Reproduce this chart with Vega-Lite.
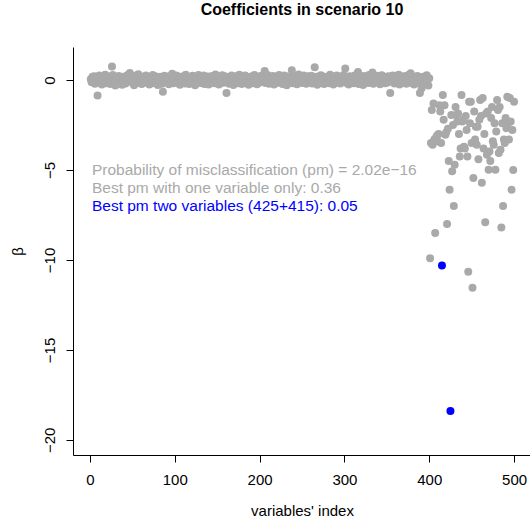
{
"$schema": "https://vega.github.io/schema/vega-lite/v6.json",
"autosize": {"type": "none"},
"width": 458,
"height": 408,
"padding": {"left": 73, "top": 47, "right": 0, "bottom": 64},
"background": "white",
"title": {"text": "Coefficients in scenario 10", "font": "Liberation Sans", "fontSize": 16, "fontWeight": "bold", "color": "black", "anchor": "middle", "baseline": "alphabetic", "offset": 16},
"config": {
  "view": {"stroke": null},
  "axis": {"grid": false, "domainColor": "black", "tickColor": "black", "labelColor": "black", "titleColor": "black", "labelFont": "Liberation Sans", "titleFont": "Liberation Sans", "labelFontSize": 15, "titleFontSize": 15, "titleFontWeight": "normal", "tickSize": 7, "domainWidth": 1, "tickWidth": 1}
},
"datasets": {
  "coef": [
{"i":1,"b":0.05},{"i":2,"b":-0.12},{"i":3,"b":0.18},{"i":4,"b":-0.03},{"i":5,"b":0.22},{"i":6,"b":-0.2},{"i":7,"b":0.08},{"i":8,"b":0.1},{"i":9,"b":-0.85},{"i":10,"b":0.02},
{"i":11,"b":0.25},{"i":12,"b":-0.08},{"i":13,"b":0.12},{"i":14,"b":-0.25},{"i":15,"b":0.0},{"i":16,"b":0.15},{"i":17,"b":-0.05},{"i":18,"b":0.3},{"i":19,"b":-0.18},{"i":20,"b":0.07},
{"i":21,"b":-0.1},{"i":22,"b":0.2},{"i":23,"b":0.03},{"i":24,"b":-0.22},{"i":25,"b":0.14},{"i":26,"b":0.75},{"i":27,"b":0.28},{"i":28,"b":-0.14},{"i":29,"b":0.09},{"i":30,"b":-0.3},
{"i":31,"b":0.17},{"i":32,"b":0.01},{"i":33,"b":-0.07},{"i":34,"b":0.23},{"i":35,"b":-0.17},{"i":36,"b":0.11},{"i":37,"b":0.04},{"i":38,"b":-0.26},{"i":39,"b":0.19},{"i":40,"b":-0.04},
{"i":41,"b":0.13},{"i":42,"b":-0.19},{"i":43,"b":0.06},{"i":44,"b":0.27},{"i":45,"b":-0.09},{"i":46,"b":0.16},{"i":47,"b":0.4},{"i":48,"b":0.02},{"i":49,"b":0.21},{"i":50,"b":-0.11},
{"i":51,"b":0.08},{"i":52,"b":-0.28},{"i":53,"b":0.24},{"i":54,"b":-0.01},{"i":55,"b":0.1},{"i":56,"b":-0.16},{"i":57,"b":0.32},{"i":58,"b":-0.06},{"i":59,"b":0.0},{"i":60,"b":0.18},
{"i":61,"b":-0.21},{"i":62,"b":0.09},{"i":63,"b":-0.02},{"i":64,"b":0.2},{"i":65,"b":-0.13},{"i":66,"b":0.26},{"i":67,"b":0.04},{"i":68,"b":-0.08},{"i":69,"b":0.15},{"i":70,"b":-0.24},
{"i":71,"b":0.12},{"i":72,"b":0.05},{"i":73,"b":-0.18},{"i":74,"b":0.29},{"i":75,"b":-0.1},{"i":76,"b":0.01},{"i":77,"b":0.22},{"i":78,"b":-0.15},{"i":79,"b":0.07},{"i":80,"b":-0.27},
{"i":81,"b":0.11},{"i":82,"b":-0.06},{"i":83,"b":0.19},{"i":84,"b":0.03},{"i":85,"b":-0.2},{"i":86,"b":-0.65},{"i":87,"b":0.16},{"i":88,"b":0.24},{"i":89,"b":-0.12},{"i":90,"b":0.06},
{"i":91,"b":-0.02},{"i":92,"b":0.14},{"i":93,"b":-0.23},{"i":94,"b":0.21},{"i":95,"b":0.08},{"i":96,"b":-0.09},{"i":97,"b":0.35},{"i":98,"b":-0.17},{"i":99,"b":0.0},{"i":100,"b":0.12},
{"i":101,"b":-0.14},{"i":102,"b":0.26},{"i":103,"b":0.05},{"i":104,"b":-0.04},{"i":105,"b":0.18},{"i":106,"b":-0.26},{"i":107,"b":0.1},{"i":108,"b":0.02},{"i":109,"b":-0.11},{"i":110,"b":0.22},
{"i":111,"b":0.07},{"i":112,"b":-0.19},{"i":113,"b":0.3},{"i":114,"b":-0.07},{"i":115,"b":0.13},{"i":116,"b":0.0},{"i":117,"b":-0.22},{"i":118,"b":0.17},{"i":119,"b":0.09},{"i":120,"b":-0.13},
{"i":121,"b":0.24},{"i":122,"b":-0.03},{"i":123,"b":0.11},{"i":124,"b":-0.29},{"i":125,"b":0.06},{"i":126,"b":0.19},{"i":127,"b":-0.1},{"i":128,"b":0.28},{"i":129,"b":0.01},{"i":130,"b":-0.16},
{"i":131,"b":0.15},{"i":132,"b":-0.05},{"i":133,"b":0.08},{"i":134,"b":0.25},{"i":135,"b":-0.21},{"i":136,"b":0.04},{"i":137,"b":0.12},{"i":138,"b":-0.08},{"i":139,"b":0.2},{"i":140,"b":-0.25},
{"i":141,"b":0.03},{"i":142,"b":0.16},{"i":143,"b":-0.14},{"i":144,"b":0.23},{"i":145,"b":-0.02},{"i":146,"b":0.09},{"i":147,"b":-0.18},{"i":148,"b":0.31},{"i":149,"b":0.05},{"i":150,"b":-0.1},
{"i":151,"b":0.18},{"i":152,"b":-0.24},{"i":153,"b":0.07},{"i":154,"b":0.13},{"i":155,"b":-0.06},{"i":156,"b":0.27},{"i":157,"b":-0.15},{"i":158,"b":0.02},{"i":159,"b":0.21},{"i":160,"b":-0.12},
{"i":161,"b":-0.72},{"i":162,"b":0.1},{"i":163,"b":0.04},{"i":164,"b":-0.2},{"i":165,"b":0.17},{"i":166,"b":-0.04},{"i":167,"b":0.26},{"i":168,"b":0.08},{"i":169,"b":-0.27},{"i":170,"b":0.14},
{"i":171,"b":-0.09},{"i":172,"b":0.22},{"i":173,"b":0.0},{"i":174,"b":-0.17},{"i":175,"b":0.12},{"i":176,"b":0.3},{"i":177,"b":-0.07},{"i":178,"b":0.06},{"i":179,"b":-0.22},{"i":180,"b":0.19},
{"i":181,"b":0.03},{"i":182,"b":-0.13},{"i":183,"b":0.25},{"i":184,"b":0.09},{"i":185,"b":-0.01},{"i":186,"b":0.16},{"i":187,"b":-0.26},{"i":188,"b":0.11},{"i":189,"b":0.05},{"i":190,"b":-0.1},
{"i":191,"b":0.21},{"i":192,"b":-0.18},{"i":193,"b":0.07},{"i":194,"b":0.28},{"i":195,"b":-0.05},{"i":196,"b":0.13},{"i":197,"b":-0.23},{"i":198,"b":0.02},{"i":199,"b":0.18},{"i":200,"b":-0.14},
{"i":201,"b":0.1},{"i":202,"b":0.24},{"i":203,"b":-0.08},{"i":204,"b":0.04},{"i":205,"b":0.2},{"i":206,"b":0.5},{"i":207,"b":-0.16},{"i":208,"b":0.14},{"i":209,"b":-0.03},{"i":210,"b":0.27},
{"i":211,"b":-0.2},{"i":212,"b":0.08},{"i":213,"b":0.17},{"i":214,"b":-0.11},{"i":215,"b":0.01},{"i":216,"b":0.23},{"i":217,"b":-0.25},{"i":218,"b":0.12},{"i":219,"b":0.06},{"i":220,"b":-0.07},
{"i":221,"b":0.19},{"i":222,"b":-0.15},{"i":223,"b":0.29},{"i":224,"b":0.03},{"i":225,"b":-0.09},{"i":226,"b":0.15},{"i":227,"b":-0.21},{"i":228,"b":0.09},{"i":229,"b":0.25},{"i":230,"b":-0.02},
{"i":231,"b":0.11},{"i":232,"b":-0.28},{"i":233,"b":0.2},{"i":234,"b":0.05},{"i":235,"b":-0.12},{"i":236,"b":0.16},{"i":237,"b":0.0},{"i":238,"b":0.55},{"i":239,"b":-0.18},{"i":240,"b":0.13},
{"i":241,"b":0.07},{"i":242,"b":-0.06},{"i":243,"b":0.22},{"i":244,"b":-0.23},{"i":245,"b":0.1},{"i":246,"b":0.31},{"i":247,"b":-0.1},{"i":248,"b":0.04},{"i":249,"b":0.18},{"i":250,"b":-0.16},
{"i":251,"b":0.02},{"i":252,"b":0.26},{"i":253,"b":-0.05},{"i":254,"b":0.12},{"i":255,"b":-0.2},{"i":256,"b":0.08},{"i":257,"b":0.21},{"i":258,"b":-0.13},{"i":259,"b":0.15},{"i":260,"b":-0.01},
{"i":261,"b":0.24},{"i":262,"b":-0.19},{"i":263,"b":0.06},{"i":264,"b":0.14},{"i":265,"b":0.72},{"i":266,"b":-0.08},{"i":267,"b":0.19},{"i":268,"b":-0.26},{"i":269,"b":0.1},{"i":270,"b":0.03},
{"i":271,"b":-0.14},{"i":272,"b":0.27},{"i":273,"b":0.08},{"i":274,"b":-0.04},{"i":275,"b":0.2},{"i":276,"b":-0.22},{"i":277,"b":0.13},{"i":278,"b":0.01},{"i":279,"b":0.17},{"i":280,"b":-0.11},
{"i":281,"b":0.09},{"i":282,"b":-0.17},{"i":283,"b":0.3},{"i":284,"b":0.05},{"i":285,"b":-0.07},{"i":286,"b":0.22},{"i":287,"b":-0.24},{"i":288,"b":0.11},{"i":289,"b":0.16},{"i":290,"b":-0.02},
{"i":291,"b":0.25},{"i":292,"b":-0.12},{"i":293,"b":0.04},{"i":294,"b":0.19},{"i":295,"b":-0.19},{"i":296,"b":0.08},{"i":297,"b":0.14},{"i":298,"b":-0.09},{"i":299,"b":0.28},{"i":300,"b":0.0},
{"i":301,"b":0.65},{"i":302,"b":-0.15},{"i":303,"b":0.12},{"i":304,"b":0.06},{"i":305,"b":-0.25},{"i":306,"b":0.21},{"i":307,"b":0.03},{"i":308,"b":-0.06},{"i":309,"b":0.17},{"i":310,"b":0.1},
{"i":311,"b":-0.18},{"i":312,"b":0.26},{"i":313,"b":0.07},{"i":314,"b":-0.11},{"i":315,"b":0.15},{"i":316,"b":0.45},{"i":317,"b":-0.21},{"i":318,"b":0.09},{"i":319,"b":0.2},{"i":320,"b":-0.03},
{"i":321,"b":0.13},{"i":322,"b":-0.27},{"i":323,"b":0.23},{"i":324,"b":0.02},{"i":325,"b":-0.1},{"i":326,"b":0.18},{"i":327,"b":0.05},{"i":328,"b":-0.16},{"i":329,"b":0.29},{"i":330,"b":0.11},
{"i":331,"b":-0.05},{"i":332,"b":0.2},{"i":333,"b":0.42},{"i":334,"b":-0.2},{"i":335,"b":0.07},{"i":336,"b":0.14},{"i":337,"b":-0.12},{"i":338,"b":0.24},{"i":339,"b":0.01},{"i":340,"b":-0.08},
{"i":341,"b":0.16},{"i":342,"b":-0.23},{"i":343,"b":0.1},{"i":344,"b":0.27},{"i":345,"b":-0.04},{"i":346,"b":0.06},{"i":347,"b":0.19},{"i":348,"b":-0.17},{"i":349,"b":0.12},{"i":350,"b":0.03},
{"i":351,"b":-0.13},{"i":352,"b":0.22},{"i":353,"b":0.08},{"i":354,"b":-0.72},{"i":355,"b":0.15},{"i":356,"b":-0.07},{"i":357,"b":0.25},{"i":358,"b":0.0},{"i":359,"b":-0.19},{"i":360,"b":0.11},
{"i":361,"b":0.18},{"i":362,"b":-0.1},{"i":363,"b":0.05},{"i":364,"b":0.3},{"i":365,"b":-0.24},{"i":366,"b":0.13},{"i":367,"b":0.02},{"i":368,"b":-0.14},{"i":369,"b":0.21},{"i":370,"b":0.09},
{"i":371,"b":-0.06},{"i":372,"b":0.17},{"i":373,"b":-0.2},{"i":374,"b":0.26},{"i":375,"b":0.04},{"i":376,"b":-0.11},{"i":377,"b":0.14},{"i":378,"b":0.38},{"i":379,"b":-0.16},{"i":380,"b":0.07},
{"i":381,"b":0.2},{"i":382,"b":-0.25},{"i":383,"b":0.1},{"i":384,"b":0.03},{"i":385,"b":-0.08},{"i":386,"b":0.23},{"i":387,"b":0.12},{"i":388,"b":-0.18},{"i":389,"b":-0.72},{"i":390,"b":0.16},
{"i":391,"b":-0.45},{"i":392,"b":0.05},{"i":393,"b":0.19},{"i":394,"b":-0.12},{"i":395,"b":0.08},{"i":396,"b":-0.2},{"i":397,"b":0.27},{"i":398,"b":0.02},{"i":399,"b":-0.3},{"i":400,"b":0.1},
{"i":401,"b":-9.9},{"i":402,"b":-3.5},{"i":403,"b":-1.66},{"i":404,"b":-3.6},{"i":405,"b":-1.3},{"i":406,"b":-3.3},{"i":407,"b":-8.5},{"i":408,"b":-3.2},{"i":409,"b":-3.1},{"i":410,"b":-3.4},
{"i":411,"b":-3.0},{"i":412,"b":-1.4},{"i":413,"b":-1.75},{"i":414,"b":-3.5},{"i":416,"b":-0.83},{"i":417,"b":-2.2},{"i":418,"b":-1.4},{"i":419,"b":-3.04},{"i":420,"b":-2.9},
{"i":421,"b":-8.0},{"i":422,"b":-2.7},{"i":423,"b":-4.5},{"i":424,"b":-6.1},{"i":426,"b":-1.94},{"i":427,"b":-5.07},{"i":428,"b":-2.5},{"i":429,"b":-7.0},{"i":430,"b":-4.7},
{"i":431,"b":-1.5},{"i":432,"b":-1.94},{"i":433,"b":-2.3},{"i":434,"b":-1.85},{"i":435,"b":-3.0},{"i":436,"b":-4.24},{"i":437,"b":-3.8},{"i":438,"b":-0.83},{"i":439,"b":-2.3},{"i":440,"b":-2.2},
{"i":441,"b":-3.7},{"i":442,"b":-3.8},{"i":443,"b":-2.0},{"i":444,"b":-2.77},{"i":445,"b":-4.24},{"i":446,"b":-10.66},{"i":447,"b":-1.2},{"i":448,"b":-2.4},{"i":449,"b":-1.2},{"i":450,"b":-3.5},
{"i":451,"b":-11.54},{"i":452,"b":-5.44},{"i":453,"b":-1.75},{"i":454,"b":-3.3},{"i":455,"b":-2.6},{"i":456,"b":-3.6},{"i":457,"b":-2.6},{"i":458,"b":-4.4},{"i":459,"b":-2.2},{"i":460,"b":-1.1},
{"i":461,"b":-2.0},{"i":462,"b":-5.7},{"i":463,"b":-1.0},{"i":464,"b":-3.8},{"i":465,"b":-3.0},{"i":466,"b":-7.9},{"i":467,"b":-1.85},{"i":468,"b":-4.15},{"i":469,"b":-1.75},{"i":470,"b":-4.98},
{"i":471,"b":-3.97},{"i":472,"b":-4.5},{"i":473,"b":-2.1},{"i":474,"b":-1.5},{"i":475,"b":-3.4},{"i":476,"b":-3.6},{"i":477,"b":-2.4},{"i":478,"b":-4.98},{"i":479,"b":-2.86},{"i":480,"b":-1.1},
{"i":481,"b":-1.66},{"i":482,"b":-4.05},{"i":483,"b":-1.5},{"i":484,"b":-3.87},{"i":485,"b":-8.2},{"i":486,"b":-2.4},{"i":487,"b":-7.0},{"i":488,"b":-3.3},{"i":489,"b":-3.5},{"i":490,"b":-2.1},
{"i":491,"b":-2.67},{"i":492,"b":-0.92},{"i":493,"b":-2.4},{"i":494,"b":-3.3},{"i":495,"b":-1.0},{"i":496,"b":-2.3},{"i":497,"b":-6.1},{"i":498,"b":-2.77},{"i":499,"b":-5.0},{"i":500,"b":-1.2}
  ],
  "bestPair": [{"i":415,"b":-10.3},{"i":425,"b":-18.4}],
  "notes": [
    {"x":0,"y":-5,"label":"Probability of misclassification (pm) = 2.02e\u221216","kind":"pm"},
    {"x":0,"y":-6,"label":"Best pm with one variable only: 0.36","kind":"one"},
    {"x":0,"y":-7,"label":"Best pm two variables (425+415): 0.05","kind":"two"}
  ]
},
"layer": [
  {
    "data": {"name": "coef"},
    "mark": {"type": "circle", "size": 64, "color": "#A9A9A9", "opacity": 1},
    "encoding": {
      "x": {"field": "i", "type": "quantitative", "scale": {"domain": [-19.96, 519.96], "nice": false, "zero": false},
            "axis": {"values": [0,100,200,300,400,500], "labelPadding": 10, "title": "variables' index", "titleY": 60, "titleBaseline": "alphabetic"}},
      "y": {"field": "b", "type": "quantitative", "scale": {"domain": [-20.84, 1.84], "nice": false, "zero": false},
            "axis": {"values": [-20,-15,-10,-5,0], "labelAngle": -90, "labelAlign": "center", "labelBaseline": "alphabetic", "labelPadding": 12, "title": "\u03b2", "titleX": -51, "titleY": 204, "titleAlign": "center", "titleBaseline": "alphabetic", "titleAngle": -90}}
    }
  },
  {
    "data": {"name": "bestPair"},
    "mark": {"type": "circle", "size": 64, "color": "#0000FF", "opacity": 1},
    "encoding": {
      "x": {"field": "i", "type": "quantitative"},
      "y": {"field": "b", "type": "quantitative"}
    }
  },
  {
    "data": {"name": "notes"},
    "mark": {"type": "text", "align": "left", "baseline": "middle", "dx": 2, "font": "Liberation Sans", "fontSize": 15.5},
    "encoding": {
      "x": {"field": "x", "type": "quantitative"},
      "y": {"field": "y", "type": "quantitative"},
      "text": {"field": "label"},
      "color": {"condition": {"test": "datum.kind === 'two'", "value": "#0000FF"}, "value": "#A9A9A9"}
    }
  }
]
}
